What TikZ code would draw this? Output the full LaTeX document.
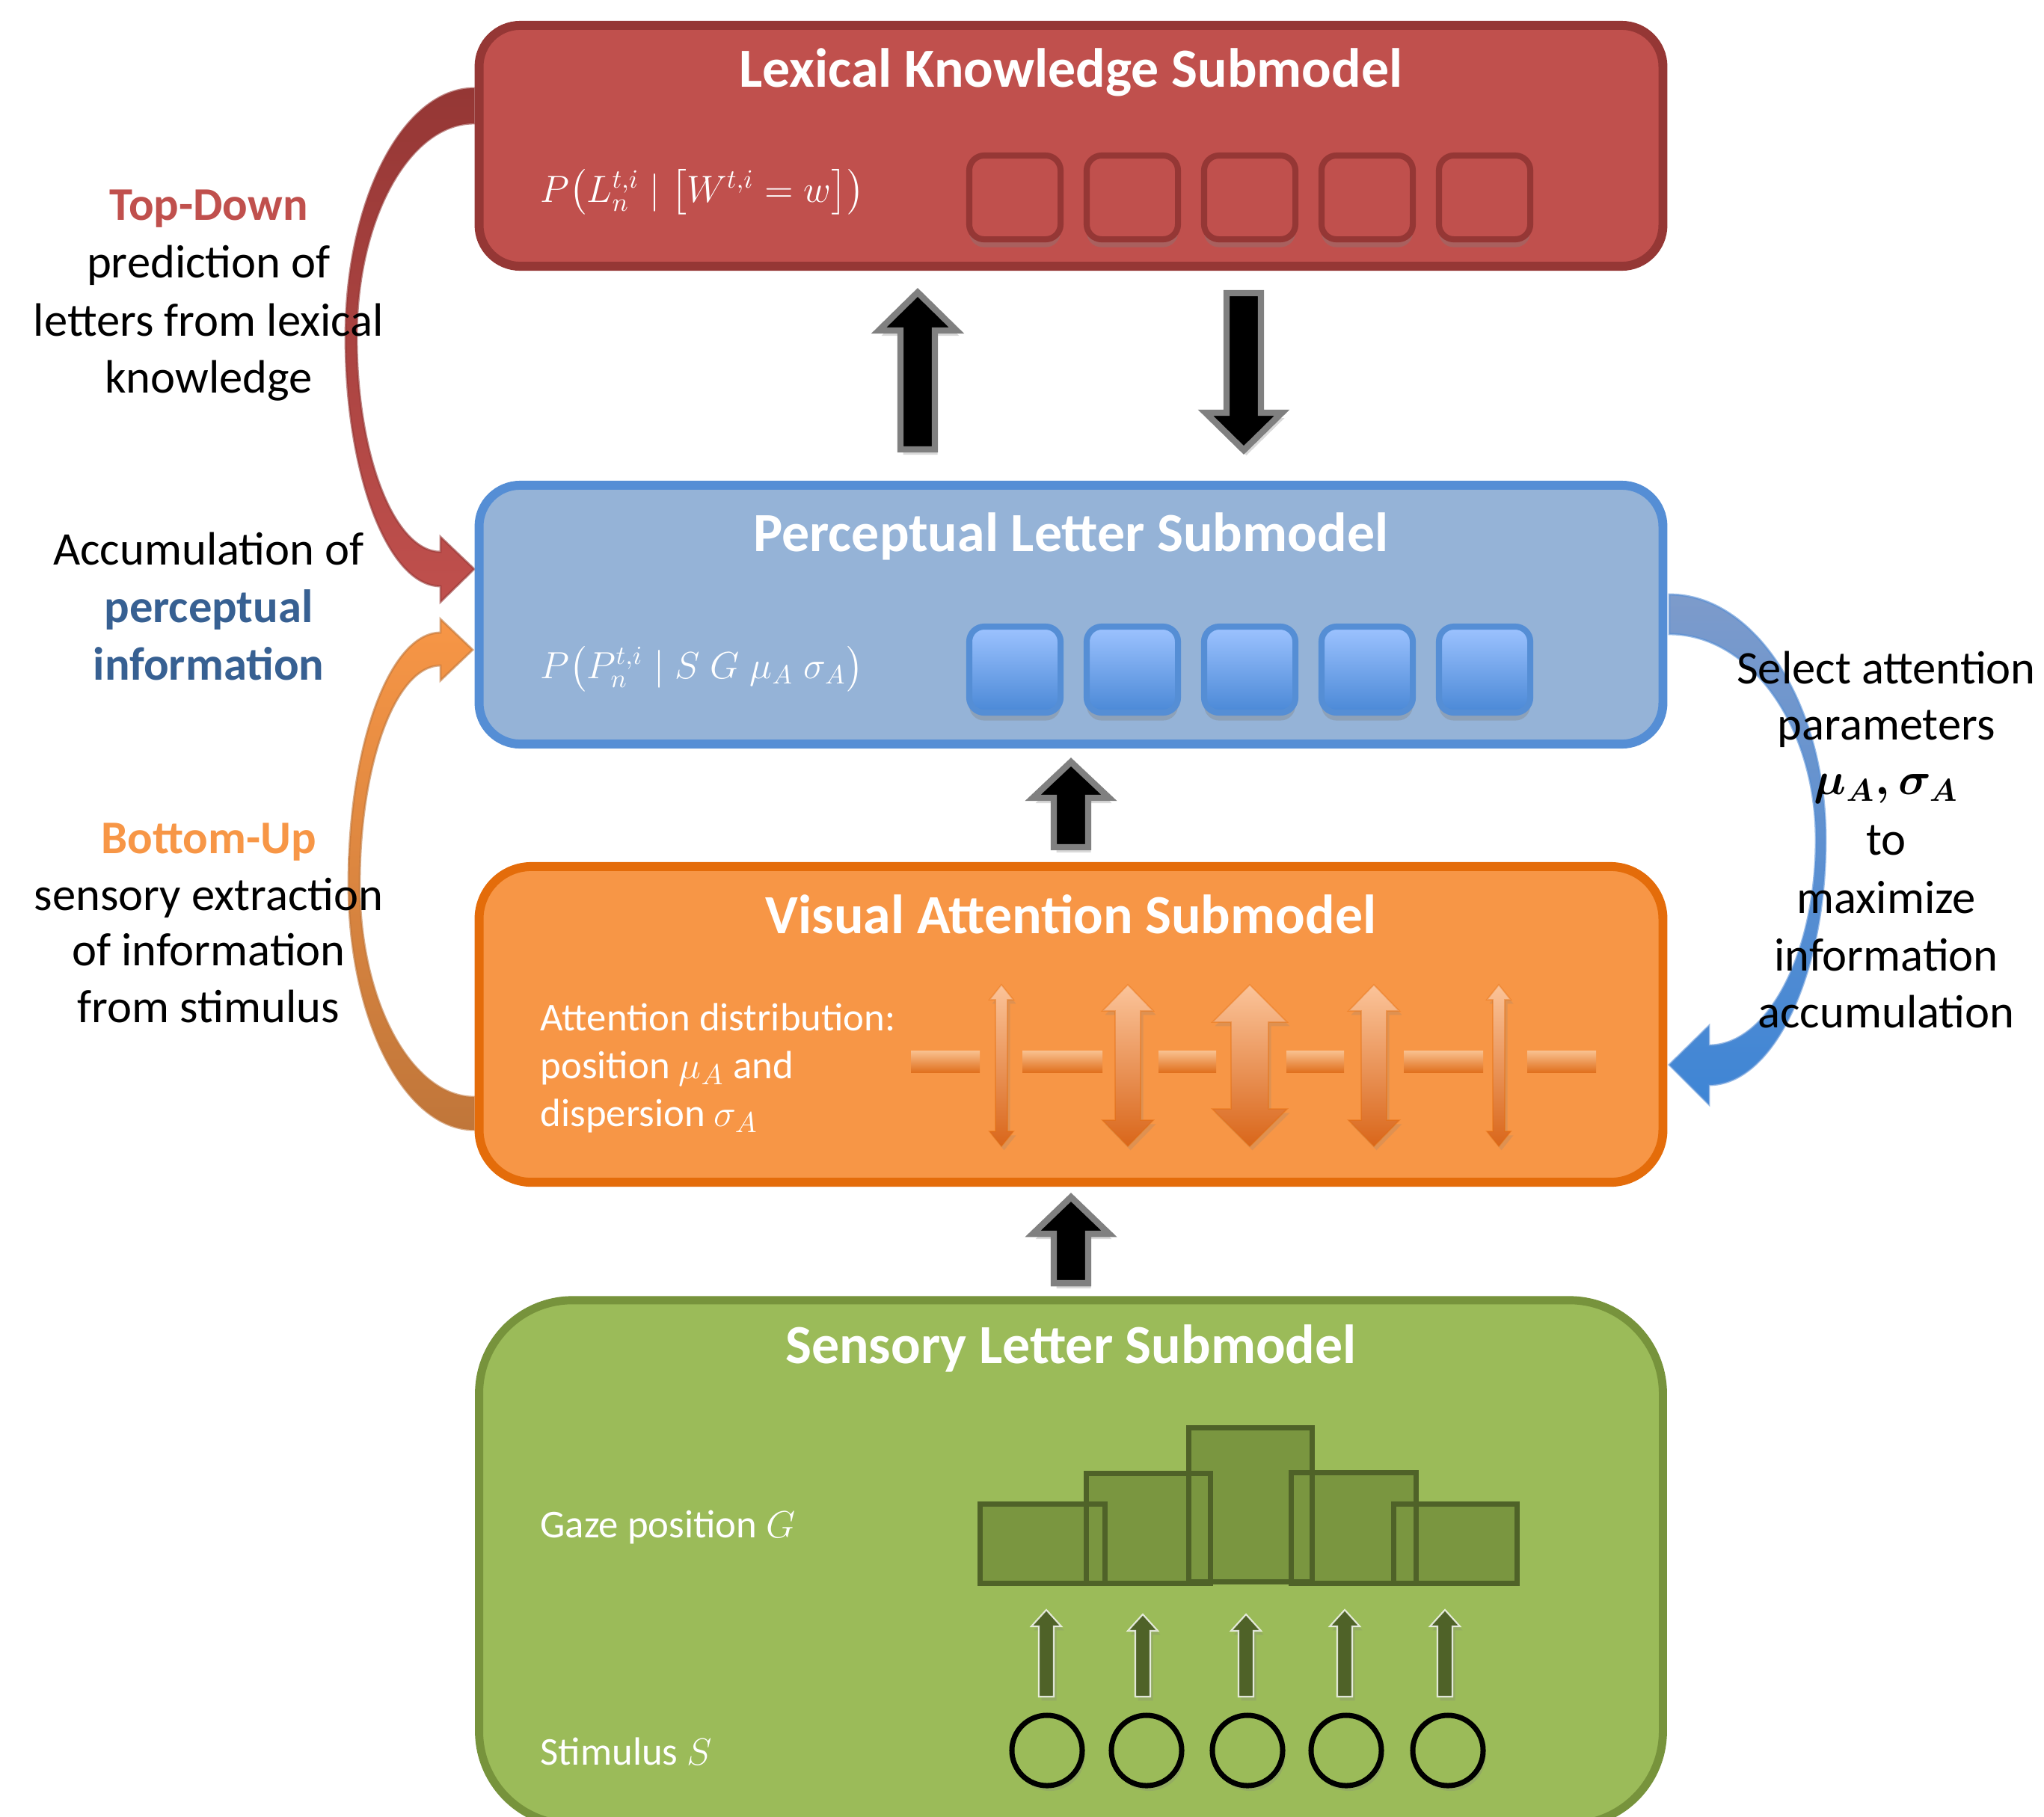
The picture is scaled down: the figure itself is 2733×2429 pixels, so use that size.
\documentclass[tikz,border=0pt]{standalone}
\usepackage{fontspec}
\setmainfont{Carlito}
\usepackage{amsmath}
\usetikzlibrary{shadows}
\definecolor{lexfill}{HTML}{C0504D}
\definecolor{lexdraw}{HTML}{953735}
\definecolor{perfill}{HTML}{95B3D7}
\definecolor{perdraw}{HTML}{558ED5}
\definecolor{visfill}{HTML}{F79646}
\definecolor{visdraw}{HTML}{E46C0A}
\definecolor{senfill}{HTML}{9BBB59}
\definecolor{sendraw}{HTML}{77933C}
\definecolor{bardark}{HTML}{4F6228}
\definecolor{barfill}{HTML}{7A9640}
\definecolor{pcolor}{HTML}{376092}
\definecolor{boxtop}{HTML}{9DC3FF}
\definecolor{boxbot}{HTML}{4A88D6}
\definecolor{arrtop}{HTML}{FBC49A}
\definecolor{arrbot}{HTML}{D9661A}
\definecolor{bartop}{HTML}{F9C190}
\definecolor{barbot}{HTML}{E0701E}
\definecolor{tdtop}{HTML}{953735}
\definecolor{tdbot}{HTML}{C0504D}
\definecolor{butop}{HTML}{F79646}
\definecolor{bubot}{HTML}{C0763A}
\definecolor{sattop}{HTML}{7D9BCB}
\definecolor{satbot}{HTML}{3E85D5}
\definecolor{arrgray}{HTML}{808080}
\begin{document}
\begin{tikzpicture}[x=0.01cm,y=-0.01cm,
  panel/.style={draw, line width=3.4pt, inner sep=0pt, outer sep=0pt, minimum width=15.82cm},
  cell/.style={draw, line width=2.3pt, rounded corners=0.2cm, inner sep=0pt, minimum width=1.22cm,
     drop shadow={shadow xshift=0pt, shadow yshift=-3pt, opacity=0.35}},
  blockarrow/.style={fill=black, draw=arrgray, line width=2.4pt,
     drop shadow={shadow xshift=1pt, shadow yshift=-2pt, opacity=0.3}},
  sidetext/.style={font=\fontsize{17.8}{21.8}\selectfont, anchor=base, inner sep=0pt},
  titletext/.style={font=\fontsize{21}{25}\selectfont\bfseries, text=white, anchor=base, inner sep=0pt},
  intext/.style={font=\fontsize{15}{18}\selectfont, text=white, anchor=base west, inner sep=0pt},
  mathtext/.style={font=\fontsize{14}{17}\selectfont, text=white, anchor=base west, inner sep=0pt},
  stim/.style={circle, draw=black, fill=senfill, line width=2pt, minimum size=0.94cm, inner sep=0pt,
     drop shadow={shadow xshift=1pt, shadow yshift=-2pt, opacity=0.25}},
  curved/.style={line width=0.8pt, draw opacity=0.6}
]
\useasboundingbox (0,0) rectangle (2733,2429);
\clip (0,0) rectangle (2733,2429);

% ---------- curved arrows ----------
\shade[curved, top color=tdtop, bottom color=tdbot, draw=lexdraw]
  (634,118) .. controls (539,118) and (462,267) .. (462,451)
  .. controls (462,635) and (519,784) .. (589,784)
  -- (589,805) -- (634,761) -- (589,718) -- (589,738)
  .. controls (527,738) and (477,609) .. (477,451)
  .. controls (477,293) and (547,165) .. (634,165) -- cycle;

\shade[curved, top color=butop, bottom color=bubot, draw=bubot]
  (634,1511) .. controls (541,1511) and (466,1364) .. (466,1182)
  .. controls (466,997) and (521,846) .. (589,846)
  -- (589,828) -- (632,869) -- (589,910) -- (589,890)
  .. controls (529,890) and (481,1021) .. (481,1182)
  .. controls (481,1339) and (550,1467) .. (634,1467) -- cycle;

\shade[curved, top color=sattop, bottom color=satbot, draw=perdraw]
  (2232,795) .. controls (2347,795) and (2441,942) .. (2441,1123)
  .. controls (2441,1304) and (2371,1451) .. (2285,1451)
  -- (2285,1477) -- (2232,1424) -- (2285,1372) -- (2285,1398)
  .. controls (2364,1398) and (2428,1275) .. (2428,1123)
  .. controls (2428,971) and (2340,848) .. (2232,848) -- cycle;

% ---------- panels ----------
\node[panel, fill=lexfill, draw=lexdraw, rounded corners=0.55cm, minimum height=3.22cm] (lex) at (1432,195) {};
\node[panel, fill=perfill, draw=perdraw, rounded corners=0.55cm, minimum height=3.46cm] (per) at (1432,822) {};
\node[panel, fill=visfill, draw=visdraw, rounded corners=0.7cm, minimum height=4.22cm] (vis) at (1432,1370) {};
\node[panel, fill=senfill, draw=sendraw, line width=3.1pt, rounded corners=1.25cm, minimum height=7.01cm] (sen) at (1432,2089.5) {};

% ---------- titles ----------
\node[titletext] (lextitle) at (1432,116) {Lexical Knowledge Submodel};
\node[titletext] (pertitle) at (1432,737) {Perceptual Letter Submodel};
\node[titletext] (vistitle) at (1432,1248) {Visual Attention Submodel};
\node[titletext] (sentitle) at (1432,1823) {Sensory Letter Submodel};

% ---------- formulas and inner text ----------
\node[mathtext] (lexform) at (722,270)
  {$P\big(L_n^{t,i}\mid\big[W^{t,i}=w\big]\big)$};
\node[mathtext] (perform) at (722,907)
  {$P\big(P_n^{t,i}\mid S\;G\;\mu_A\;\sigma_A\big)$};
\node[intext] (vis1) at (722,1378) {Attention distribution:};
\node[intext] (vis2) at (722,1442) {position $\mu_A$ and};
\node[intext] (vis3) at (722,1506) {dispersion $\sigma_A$};
\node[intext] (gaze) at (722,2056) {Gaze position $G$};
\node[intext] (stimtext) at (722,2360) {Stimulus $S$};

% ---------- lexical cells ----------
\foreach \i/\x in {1/1357,2/1514,3/1671,4/1828,5/1985}
  \node[cell, fill=lexfill, draw=lexdraw, minimum height=1.12cm] (lc\i) at (\x,264) {};

% ---------- perceptual cells ----------
\foreach \i/\x in {1/1357,2/1514,3/1671,4/1828,5/1985}
  \node[cell, top color=boxtop, bottom color=boxbot, draw=perdraw, minimum height=1.15cm] (pc\i) at (\x,895.5) {};

% ---------- attention bars and arrows ----------
\foreach \a/\b in {1218/1310,1367/1474,1549/1626,1720/1797,1877/1983,2042/2134}
  \shade[top color=bartop, bottom color=barbot] (\a,1405) rectangle (\b,1434);
\foreach \c/\s/\h/\L in {1339/8/16/20, 1508/17/34/35, 1671/25/50/50, 1837/17/34/35, 2004/8/16/20}
  \shade[top color=arrtop, bottom color=arrbot, draw=visdraw, draw opacity=0.4, line width=0.5pt,
     drop shadow={shadow xshift=1pt, shadow yshift=-1.5pt, opacity=0.2}]
    (\c,1317) -- ({\c+\h},{1317+\L}) -- ({\c+\s},{1317+\L}) -- ({\c+\s},{1533-\L})
    -- ({\c+\h},{1533-\L}) -- (\c,1533) -- ({\c-\h},{1533-\L}) -- ({\c-\s},{1533-\L})
    -- ({\c-\s},{1317+\L}) -- ({\c-\h},{1317+\L}) -- cycle;

% ---------- histogram ----------
\fill[barfill] (1310,2011) rectangle (1477,2117);
\fill[barfill] (1452,1970) rectangle (1618,2117);
\fill[barfill] (1589,1909) rectangle (1754,2115);
\fill[barfill] (1726,1969) rectangle (1893,2117);
\fill[barfill] (1863,2011) rectangle (2028,2117);
\draw[bardark, line width=2pt] (1310,2011) rectangle (1477,2117);
\draw[bardark, line width=2pt] (1452,1970) rectangle (1618,2117);
\draw[bardark, line width=2pt] (1589,1909) rectangle (1754,2115);
\draw[bardark, line width=2pt] (1726,1969) rectangle (1893,2117);
\draw[bardark, line width=2pt] (1863,2011) rectangle (2028,2117);

% ---------- sensory arrows ----------
\foreach \c/\t in {1399/2153,1528/2159,1666/2159,1798/2153,1932/2153}
  \filldraw[fill=bardark, draw=white, draw opacity=0.8, line width=0.6pt,
     drop shadow={shadow xshift=1pt, shadow yshift=-1.5pt, opacity=0.25}]
    (\c,\t) -- ({\c+20},{\t+22}) -- ({\c+10},{\t+22}) -- ({\c+10},2269) -- ({\c-10},2269)
    -- ({\c-10},{\t+22}) -- ({\c-20},{\t+22}) -- cycle;

% ---------- stimulus circles ----------
\foreach \i/\x in {1/1400,2/1533,3/1668,4/1800,5/1936}
  \node[stim] (s\i) at (\x,2341) {};

% ---------- block arrows ----------
\filldraw[blockarrow] (1227,391) -- (1279,442) -- (1250,442) -- (1250,601) -- (1204,601) -- (1204,442) -- (1175,442) -- cycle;
\filldraw[blockarrow] (1640,392) -- (1686,392) -- (1686,552) -- (1714,552) -- (1663,602) -- (1612,552) -- (1640,552) -- cycle;
\filldraw[blockarrow] (1432,1019) -- (1483,1067) -- (1455,1067) -- (1455,1133) -- (1409,1133) -- (1409,1067) -- (1381,1067) -- cycle;
\filldraw[blockarrow] (1432,1601) -- (1483,1650) -- (1455,1650) -- (1455,1716) -- (1409,1716) -- (1409,1650) -- (1381,1650) -- cycle;

% ---------- left texts ----------
\node[sidetext, text=lexfill, font=\fontsize{17.8}{21.8}\selectfont\bfseries] (td1) at (279,294) {Top-Down};
\node[sidetext] (td2) at (279,371) {prediction of};
\node[sidetext] (td3) at (279,449) {letters from lexical};
\node[sidetext] (td4) at (279,525) {knowledge};
\node[sidetext] (ac1) at (279,755) {Accumulation of};
\node[sidetext, text=pcolor, font=\fontsize{17.8}{21.8}\selectfont\bfseries] (ac2) at (279,832) {perceptual};
\node[sidetext, text=pcolor, font=\fontsize{17.8}{21.8}\selectfont\bfseries] (ac3) at (279,909) {information};
\node[sidetext, text=visfill, font=\fontsize{17.8}{21.8}\selectfont\bfseries] (bu1) at (279,1141) {Bottom-Up};
\node[sidetext] (bu2) at (279,1217) {sensory extraction};
\node[sidetext] (bu3) at (279,1291) {of information};
\node[sidetext] (bu4) at (279,1367) {from stimulus};

% ---------- right texts ----------
\node[sidetext] (r1) at (2522,914) {Select attention};
\node[sidetext] (r2) at (2522,989) {parameters};
\node[sidetext] (r3) at (2522,1062) {$\boldsymbol{\mu_A,\sigma_A}$};
\node[sidetext] (r4) at (2522,1143) {to};
\node[sidetext] (r5) at (2522,1221) {maximize};
\node[sidetext] (r6) at (2522,1298) {information};
\node[sidetext] (r7) at (2522,1374) {accumulation};
\end{tikzpicture}
\end{document}
